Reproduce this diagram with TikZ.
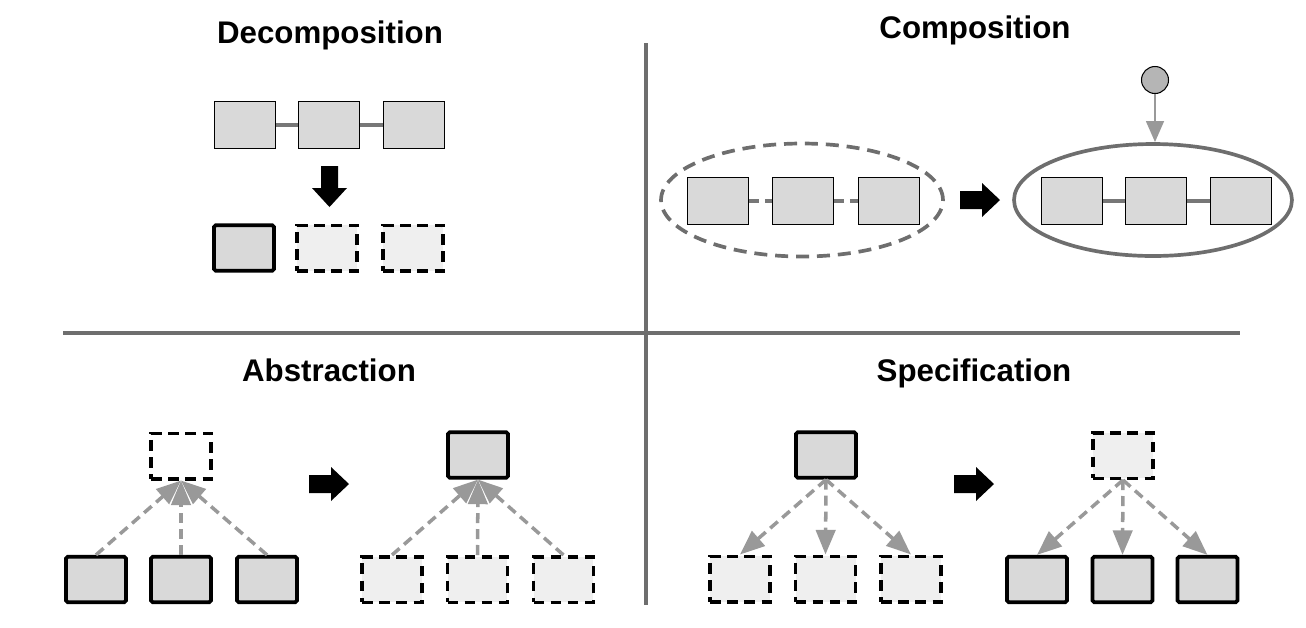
\documentclass[tikz,border=0pt]{standalone}
\usepackage{fontspec}
\setmainfont{Liberation Sans}
\usepackage{tikz}
\usetikzlibrary{arrows.meta,shapes.geometric}
\definecolor{boxgray}{HTML}{D9D9D9}
\definecolor{ghostgray}{HTML}{EFEFEF}
\definecolor{rulegray}{HTML}{6E6E6E}
\definecolor{linkgray}{HTML}{777777}
\definecolor{arrowgray}{HTML}{999999}
\definecolor{dotgray}{HTML}{B5B5B5}
\tikzset{
  box/.style={draw=black, line width=0.7pt, fill=boxgray, inner sep=0,
    minimum width=1.22cm, minimum height=0.93cm},
  boldbox/.style={box, line width=2.1pt, rounded corners=1pt,
    minimum width=1.2cm, minimum height=0.91cm},
  ghostbox/.style={box, fill=ghostgray, line width=2pt, dash pattern=on 6pt off 3.8pt,
    minimum width=1.2cm, minimum height=0.91cm},
  emptybox/.style={ghostbox, fill=none},
  link/.style={draw=linkgray, line width=2.2pt},
  group/.style={ellipse, draw=rulegray, line width=2.1pt, inner sep=0},
  title/.style={font=\fontsize{17.8}{20}\selectfont\bfseries, anchor=base},
  refline/.style={arrowgray, line width=2pt, dash pattern=on 5.7pt off 3.4pt,
    -{Triangle[length=14pt, width=11pt]}},
}
\begin{document}
\begin{tikzpicture}[x=0.02cm, y=-0.02cm]
\useasboundingbox (0,0) rectangle (1306,627);

\draw[rulegray, line width=2.2pt] (646,43) -- (646,605) (63,333) -- (1240,333);

\node[title] (decTitle) at (330,43) {Decomposition};
\node[title] (comTitle) at (975,38) {Composition};
\node[title] (absTitle) at (329,381) {Abstraction};
\node[title] (speTitle) at (974,381) {Specification};

\node[box] (d1) at (245,125) {};
\node[box] (d2) at (329,125) {};
\node[box] (d3) at (414,125) {};
\draw[link] (d1) -- (d2) (d2) -- (d3);
\fill (321,166) -- (338,166) -- (338,188) -- (347,188) -- (329.5,207) -- (312,188) -- (321,188) -- cycle;
\node[boldbox] (e1) at (244,248) {};
\node[ghostbox] (e2) at (327,248) {};
\node[ghostbox] (e3) at (413,248) {};

\node[group, dash pattern=on 7.4pt off 4.5pt, minimum width=5.64cm, minimum height=2.26cm] (grpA) at (802,200) {};
\node[box] (c1) at (718,201) {};
\node[box] (c2) at (803,201) {};
\node[box] (c3) at (889,201) {};
\draw[link, dash pattern=on 5.5pt off 3.5pt] (c1) -- (c2) (c2) -- (c3);
\node[group, minimum width=5.56cm, minimum height=2.24cm] (grpB) at (1153,200) {};
\node[box] (g1) at (1072,201) {};
\node[box] (g2) at (1156,201) {};
\node[box] (g3) at (1241,201) {};
\draw[link] (g1) -- (g2) (g2) -- (g3);
\node[circle, draw, line width=0.6pt, fill=dotgray, inner sep=0, minimum size=0.54cm] (src) at (1155,80) {};
\draw[arrowgray, line width=1.6pt, -{Triangle[length=12pt, width=10pt]}] (src) -- (src |- grpB.north);

\foreach \x/\y in {960/200, 309/484, 954/484}
  \fill (\x,\y) ++(0,-9) -- ++(22,0) -- ++(0,-8) -- ++(18,17) -- ++(-18,17) -- ++(0,-8) -- ++(-22,0) -- cycle;

\node[emptybox] (at) at (181,456) {};
\node[boldbox] (a1) at (96,579.5) {};
\node[boldbox] (a2) at (181,579.5) {};
\node[boldbox] (a3) at (267,579.5) {};
\foreach \n in {a1,a2,a3} \draw[refline] (\n.north) -- (at.south);

\node[boldbox] (bt) at (478,455) {};
\node[ghostbox] (b1) at (392,579.5) {};
\node[ghostbox] (b2) at (477.5,579.5) {};
\node[ghostbox] (b3) at (563.5,579.5) {};
\foreach \n in {b1,b2,b3} \draw[refline] (\n.north) -- (bt.south);

\node[boldbox] (st) at (826,455) {};
\node[ghostbox] (s1) at (740,579) {};
\node[ghostbox] (s2) at (825.5,579) {};
\node[ghostbox] (s3) at (911,579) {};
\foreach \n in {s1,s2,s3} \draw[refline] (st.south) -- (\n.north);

\node[ghostbox] (tt) at (1123,455.5) {};
\node[boldbox] (t1) at (1037,579.5) {};
\node[boldbox] (t2) at (1122.5,579.5) {};
\node[boldbox] (t3) at (1207.5,579.5) {};
\foreach \n in {t1,t2,t3} \draw[refline] (tt.south) -- (\n.north);
\end{tikzpicture}
\end{document}
